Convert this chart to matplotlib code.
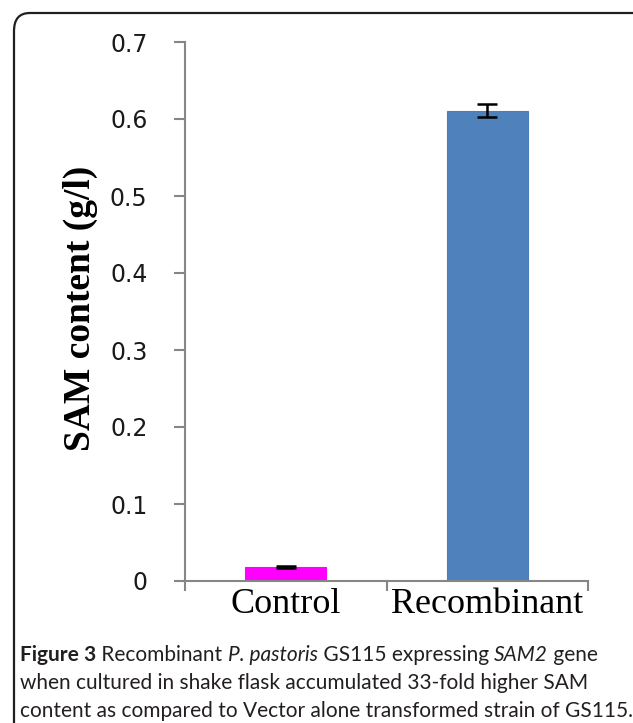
import matplotlib
matplotlib.use("Agg")
import matplotlib.pyplot as plt
from matplotlib.patches import FancyBboxPatch

# data
categories = ["Control", "Recombinant"]
sam_content = [0.018, 0.611]
sam_err = [0.001, 0.008]
bar_colors = ["#FF00FF", "#4F81BD"]
yticks = [0, 0.1, 0.2, 0.3, 0.4, 0.5, 0.6, 0.7]
ytick_labels = ["0", "0.1", "0.2", "0.3", "0.4", "0.5", "0.6", "0.7"]

caption = [
    [("Figure 3", "bold", "normal"), (" Recombinant ", "normal", "normal"),
     ("P. pastoris", "normal", "italic"), (" GS115 expressing ", "normal", "normal"),
     ("SAM2", "normal", "italic"), (" gene", "normal", "normal")],
    [("when cultured in shake flask accumulated 33-fold higher SAM", "normal", "normal")],
    [("content as compared to Vector alone transformed strain of GS115.", "normal", "normal")],
]

W, H = 633, 723
fig = plt.figure(figsize=(W / 100, H / 100), dpi=100)

# frame round the whole figure
frame = FancyBboxPatch((14 / W, -0.1), 1.2, 1 - 13 / H + 0.1,
                       boxstyle="round,pad=0,rounding_size=0.025",
                       transform=fig.transFigure, fill=False,
                       edgecolor="#231F20", linewidth=1.6, clip_on=False)
fig.patches.append(frame)

ax = fig.add_axes([185 / W, 1 - 581 / H, (588 - 185) / W, (581 - 42) / H])
x = list(range(len(categories)))
ax.bar(x, sam_content, width=0.4, color=bar_colors, edgecolor=["#FF00FF", "#4A7EBB"],
       linewidth=0.8, zorder=2)
ax.errorbar(x, sam_content, yerr=sam_err, fmt="none", ecolor="black",
            elinewidth=1.8, capsize=7, capthick=1.8, zorder=3)

ax.set_xlim(-0.5, 1.5)
ax.set_ylim(0, 0.7)
ax.set_yticks(yticks)
ax.set_yticklabels(ytick_labels, fontsize=17, color="#1a1a1a", family="DejaVu Sans")
ax.set_xticks(x)
ax.set_xticklabels(categories, fontsize=26, family="Liberation Serif")
ax.set_xticks([-0.5, 0.5, 1.5], minor=True)
ax.tick_params(axis="x", which="major", length=0, pad=5)
ax.tick_params(axis="x", which="minor", length=7, width=1.5, color="#868686")
ax.tick_params(axis="y", length=8, width=1.5, color="#868686", pad=19)

for s in ["top", "right"]:
    ax.spines[s].set_visible(False)
for s in ["left", "bottom"]:
    ax.spines[s].set_color("#868686")
    ax.spines[s].set_linewidth(1.5)

fig.text(80 / W, 1 - 308 / H, "SAM content (g/l)", rotation=90, ha="center",
         va="center", fontsize=27, fontweight="bold", family="Liberation Serif")

# caption with mixed styles, pieces placed one after another
renderer = fig.canvas.get_renderer()
line_y = [655, 683, 711]
for pieces, yy in zip(caption, line_y):
    xx = 20
    for txt, wt, st in pieces:
        t = fig.text(xx / W, 1 - yy / H, txt, fontsize=15, fontweight=wt, style=st,
                     family="Lato", va="center", ha="left", color="#231F20")
        bb = t.get_window_extent(renderer)
        xx += bb.width

fig.savefig("out.png", dpi=100)
